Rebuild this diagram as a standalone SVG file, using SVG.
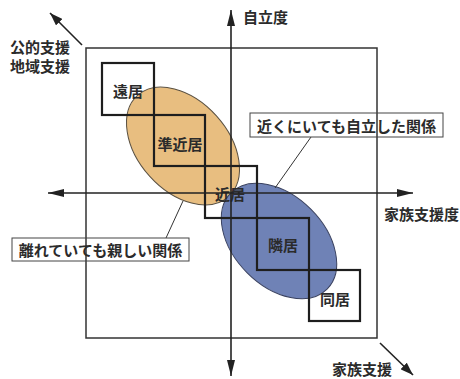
<svg xmlns="http://www.w3.org/2000/svg" width="460" height="379" viewBox="0 0 460 379">
<defs>
<marker id="ah" viewBox="0 0 16 8" refX="16" refY="4" markerWidth="16" markerHeight="8" markerUnits="userSpaceOnUse" orient="auto-start-reverse">
<path d="M0,0 L16,4 L0,8 Z" fill="#222"/>
</marker>
<marker id="ahs" viewBox="0 0 13 9" refX="13" refY="4.5" markerWidth="13" markerHeight="9" markerUnits="userSpaceOnUse" orient="auto">
<path d="M0,0 L13,4.5 L0,9 Z" fill="#222"/>
</marker>
<style>
text{font-family:"Noto Sans CJK JP","Noto Sans CJK SC",sans-serif;font-weight:700;fill:#2b2b2b;font-size:15px;dominant-baseline:central}
.c{text-anchor:middle}
.box{fill:none;stroke:#1e1e1e;stroke-width:2.2}
.frame{fill:none;stroke:#333;stroke-width:1.5}
.ax{stroke:#222;stroke-width:1.6;fill:none}
.lead{stroke:#333;stroke-width:1;fill:none}
.lbl{fill:none;stroke:#444;stroke-width:1}
</style>
</defs>
<rect width="460" height="379" fill="#ffffff"/>
<g id="frame"><rect class="frame" x="86" y="48" width="291" height="290"/></g>
<g id="ellipse-orange"><ellipse cx="183" cy="146" rx="68" ry="45" transform="rotate(48 183 146)" fill="#E8BE80" stroke="#5a5040" stroke-width="1"/></g>
<g id="ellipse-blue"><ellipse cx="279" cy="241" rx="68" ry="45" transform="rotate(45 279 241)" fill="#6F82B6" stroke="#3a4260" stroke-width="1"/></g>
<g id="enkyo"><rect class="box" x="102" y="63" width="52" height="52"/><text class="c" x="128" y="90">遠居</text></g>
<g id="junkinkyo"><rect class="box" x="154" y="115" width="51" height="51"/><text class="c" x="180" y="143">準近居</text></g>
<g id="kinkyo"><rect class="box" x="205" y="166" width="52" height="52"/><text class="c" x="230" y="193">近居</text></g>
<g id="rinkyo"><rect class="box" x="257" y="218" width="52" height="52"/><text class="c" x="283" y="244">隣居</text></g>
<g id="dokyo"><rect class="box" x="309" y="270" width="51" height="51"/><text class="c" x="335" y="298">同居</text></g>
<g id="connectors">
<line class="ax" x1="48" y1="193" x2="413" y2="193" marker-start="url(#ah)" marker-end="url(#ah)"/>
<line class="ax" x1="231" y1="10" x2="231" y2="376" marker-start="url(#ah)" marker-end="url(#ah)"/>
<line class="ax" x1="82" y1="45" x2="50" y2="13" marker-end="url(#ahs)"/>
<line class="ax" x1="380" y1="343" x2="413" y2="375" marker-end="url(#ahs)"/>
<line class="lead" x1="311" y1="137" x2="275" y2="188"/>
<line class="lead" x1="183" y1="201" x2="166" y2="238"/>
</g>
<g id="label-independent"><rect class="lbl" x="250" y="113" width="193" height="24"/><text class="c" x="346.5" y="125">近くにいても自立した関係</text></g>
<g id="label-close"><rect class="lbl" x="12" y="238" width="177" height="23"/><text class="c" x="100.5" y="249.5">離れていても親しい関係</text></g>
<g id="axis-labels">
<text x="243" y="16">自立度</text>
<text x="384" y="213">家族支援度</text>
<text x="332" y="368">家族支援</text>
<text x="10" y="46">公的支援</text>
<text x="10" y="65">地域支援</text>
</g>
</svg>
